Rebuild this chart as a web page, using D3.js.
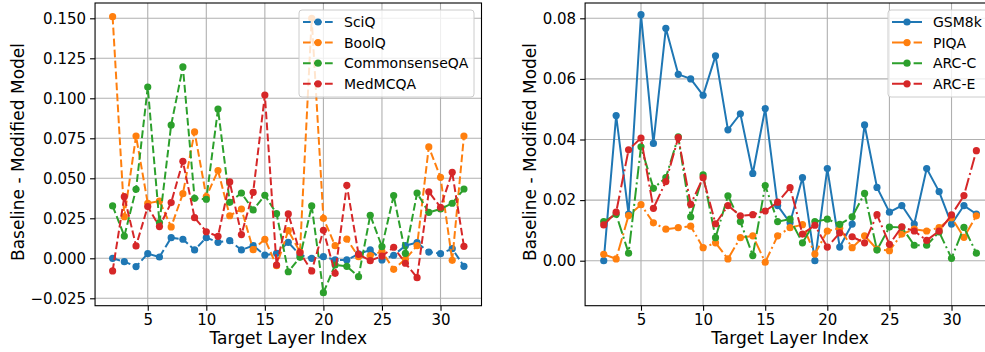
<!DOCTYPE html>
<html><head><meta charset="utf-8">
<script src="https://cdn.jsdelivr.net/npm/d3@7"></script>
<style>body{margin:0;background:#fff;} svg{display:block;font-family:"DejaVu Sans",sans-serif;}</style>
</head><body><svg id="c" width="985" height="352"></svg>
<script>
const layers = [2,3,4,5,6,7,8,9,10,11,12,13,14,15,16,17,18,19,20,21,22,23,24,25,26,27,28,29,30,31,32];

// Left panel
const leftNames = ["SciQ","BoolQ","CommonsenseQA","MedMCQA"];
const sciq = [0.000,-0.0021,-0.0052,0.0029,0.0008,0.0129,0.0119,0.0052,0.0129,0.0100,0.0110,0.0052,0.0079,0.0020,0.0031,0.0100,0.0020,0.0000,0.0010,-0.0010,-0.0010,0.0027,0.0052,-0.0010,0.0019,0.0079,0.0098,0.0039,0.0029,0.0060,-0.0050];
const boolq = [0.151,0.026,0.0764,0.0344,0.0358,0.0196,0.0404,0.079,0.0385,0.0548,0.0266,0.0308,0.0054,0.0119,-0.0046,0.0173,0.004,0.150,0.025,0.0079,0.012,0.001,0.0017,0.0042,-0.0069,-0.0006,0.0079,0.0696,0.0506,-0.0013,0.0764];
const commonsenseqa = [0.0327,0.0139,0.0431,0.107,0.0223,0.0833,0.1196,0.0375,0.0369,0.0933,0.035,0.0408,0.0302,0.0394,0.0279,-0.0084,0.0006,0.0327,-0.0215,-0.0042,-0.005,-0.0115,0.0269,0.0073,0.0392,0.0031,0.0408,0.0287,0.0308,0.0344,0.0433];
const medmcqa = [-0.0079,0.0385,0.0077,0.0323,0.0198,0.0348,0.0606,0.0254,0.0166,0.0137,0.0477,0.0148,0.0412,0.102,-0.0042,0.0277,0.0035,-0.0079,0.0175,-0.0094,0.0456,0.0025,-0.0015,0.0014,0.0069,-0.0031,-0.0121,0.0416,0.0319,0.0537,0.0075];

// Right panel
const rightNames = ["GSM8k","PIQA","ARC-C","ARC-E"];
const gsm8k = [0.000,0.0479,0.0154,0.0812,0.0387,0.0767,0.0615,0.060,0.0546,0.0676,0.0432,0.0485,0.0288,0.0502,0.0182,0.0125,0.0274,0.000,0.0304,0.0045,0.0121,0.0448,0.0242,0.016,0.0182,0.0121,0.0304,0.0228,0.0121,0.0182,0.0154];
const piqa = [0.0021,0.0006,0.0149,0.0185,0.0125,0.0104,0.0109,0.0114,0.0043,0.0059,0.0006,0.0076,0.0082,-0.0005,0.0082,0.0109,0.0119,0.0022,0.0098,0.0107,0.0043,0.0082,0.0038,0.0033,0.0088,0.0104,0.0098,0.0109,0.0142,0.0077,0.0148];
const arcc = [0.0129,0.0153,0.0025,0.0376,0.0239,0.0274,0.0409,0.0145,0.0283,0.0076,0.0214,0.0129,0.0017,0.0248,0.0129,0.0137,0.0059,0.0129,0.0137,0.012,0.0145,0.0222,0.0035,0.0111,0.011,0.0051,0.0051,0.0095,0.0008,0.011,0.0025];
const arce = [0.0118,0.016,0.0366,0.0405,0.0173,0.0261,0.0406,0.0186,0.0274,0.0122,0.0182,0.0148,0.0152,0.0164,0.0193,0.0241,0.0088,0.0117,0.0045,0.0092,0.0079,0.0059,0.0152,0.0054,0.0112,0.0098,0.0067,0.0098,0.0151,0.0215,0.0363];

const xTicks = [5,10,15,20,25,30];
const leftYTicks = [-0.025,0,0.025,0.05,0.075,0.1,0.125,0.15];
const rightYTicks = [0,0.02,0.04,0.06,0.08];
const colors = ["#1f77b4","#ff7f0e","#2ca02c","#d62728"];

const svg = d3.select("#c");

function panel(cfg){
  const x = d3.scaleLinear().domain([0.5,33.5]).range([cfg.l, cfg.r]);
  const y = d3.scaleLinear().domain(cfg.ydom).range([cfg.b, cfg.t]);
  const g = svg.append("g");
  const clipId = "clip"+cfg.id;
  g.append("clipPath").attr("id",clipId).append("rect")
    .attr("x",cfg.l).attr("y",cfg.t).attr("width",cfg.r-cfg.l).attr("height",cfg.b-cfg.t);
  // grid
  g.append("g").selectAll("line").data(xTicks).join("line")
    .attr("x1",d=>x(d)).attr("x2",d=>x(d)).attr("y1",cfg.t).attr("y2",cfg.b)
    .attr("stroke","#b0b0b0").attr("stroke-width",1.1);
  g.append("g").selectAll("line").data(cfg.yTicks).join("line")
    .attr("y1",d=>y(d)).attr("y2",d=>y(d)).attr("x1",cfg.l).attr("x2",cfg.r)
    .attr("stroke","#b0b0b0").attr("stroke-width",1.1);
  // series
  const pg = g.append("g").attr("clip-path",`url(#${clipId})`);
  cfg.series.forEach((s,i)=>{
    const pts = layers.map((L,j)=>[L,s[j]]);
    pg.append("path").datum(pts)
      .attr("d", d3.line().x(d=>x(d[0])).y(d=>y(d[1])))
      .attr("fill","none").attr("stroke",colors[i]).attr("stroke-width",2)
      .attr("stroke-dasharray", cfg.dash[i]);
    pg.append("g").selectAll("circle").data(pts).join("circle")
      .attr("cx",d=>x(d[0])).attr("cy",d=>y(d[1])).attr("r",3.6).attr("fill",colors[i]);
  });
  // axes
  const xa = g.append("g").attr("transform",`translate(0,${cfg.b})`)
    .call(d3.axisBottom(x).tickValues(xTicks).tickSize(5).tickPadding(4).tickFormat(d3.format("d")));
  xa.select(".domain").remove();
  xa.selectAll("text").attr("font-size",15).attr("fill","#000").attr("font-family","DejaVu Sans");
  xa.selectAll("line").attr("stroke","#000").attr("stroke-width",1.1);
  const ya = g.append("g").attr("transform",`translate(${cfg.l},0)`)
    .call(d3.axisLeft(y).tickValues(cfg.yTicks).tickSize(5).tickPadding(4).tickFormat(d3.format(cfg.fmt)));
  ya.select(".domain").remove();
  ya.selectAll("text").attr("font-size",15).attr("fill","#000").attr("font-family","DejaVu Sans");
  ya.selectAll("line").attr("stroke","#000").attr("stroke-width",1.1);
  // spines
  g.append("rect").attr("x",cfg.l).attr("y",cfg.t).attr("width",cfg.r-cfg.l).attr("height",cfg.b-cfg.t)
    .attr("fill","none").attr("stroke","#000").attr("stroke-width",1.1);
  // labels
  g.append("text").attr("x",(cfg.l+cfg.r)/2).attr("y",344).attr("text-anchor","middle")
    .attr("font-size",17).attr("fill","#000").text("Target Layer Index");
  g.append("text").attr("transform",`translate(${cfg.ylx},152) rotate(-90)`).attr("text-anchor","middle")
    .attr("dominant-baseline","central").attr("font-size",17).attr("fill","#000").text("Baseline - Modified Model");
  // legend
  const lg = g.append("g");
  lg.append("rect").attr("x",cfg.lgx).attr("y",10).attr("width",cfg.lgw).attr("height",87).attr("rx",3)
    .attr("fill","#fff").attr("fill-opacity",0.8).attr("stroke","#cccccc").attr("stroke-width",1);
  cfg.names.forEach((n,i)=>{
    const yy = 22 + i*20.6;
    lg.append("line").attr("x1",cfg.lgx+4).attr("x2",cfg.lgx+34).attr("y1",yy).attr("y2",yy)
      .attr("stroke",colors[i]).attr("stroke-width",2).attr("stroke-dasharray",cfg.dash[i]);
    lg.append("circle").attr("cx",cfg.lgx+19).attr("cy",yy).attr("r",3.6).attr("fill",colors[i]);
    lg.append("text").attr("x",cfg.lgx+45).attr("y",yy).attr("dominant-baseline","central")
      .attr("font-size",14).attr("fill","#000").text(n);
  });
}

panel({id:"L", l:95.05, r:481.5, t:3, b:305.7, ydom:[-0.02963,0.15956], yTicks:leftYTicks, fmt:".3f",
  series:[sciq,boolq,commonsenseqa,medmcqa], names:leftNames,
  dash:["7.7,3.3","7.7,3.3","7.7,3.3","7.7,3.3"], ylx:17.5, lgx:299, lgw:175});
panel({id:"R", l:585.1, r:995, t:3, b:305.7, ydom:[-0.01485,0.08505], yTicks:rightYTicks, fmt:".2f",
  series:[gsm8k,piqa,arcc,arce], names:rightNames,
  dash:[null,"13,3.3,2,3.3","13,3.3,2,3.3","13,3.3,2,3.3"], ylx:530, lgx:888, lgw:110});
</script></body></html>
